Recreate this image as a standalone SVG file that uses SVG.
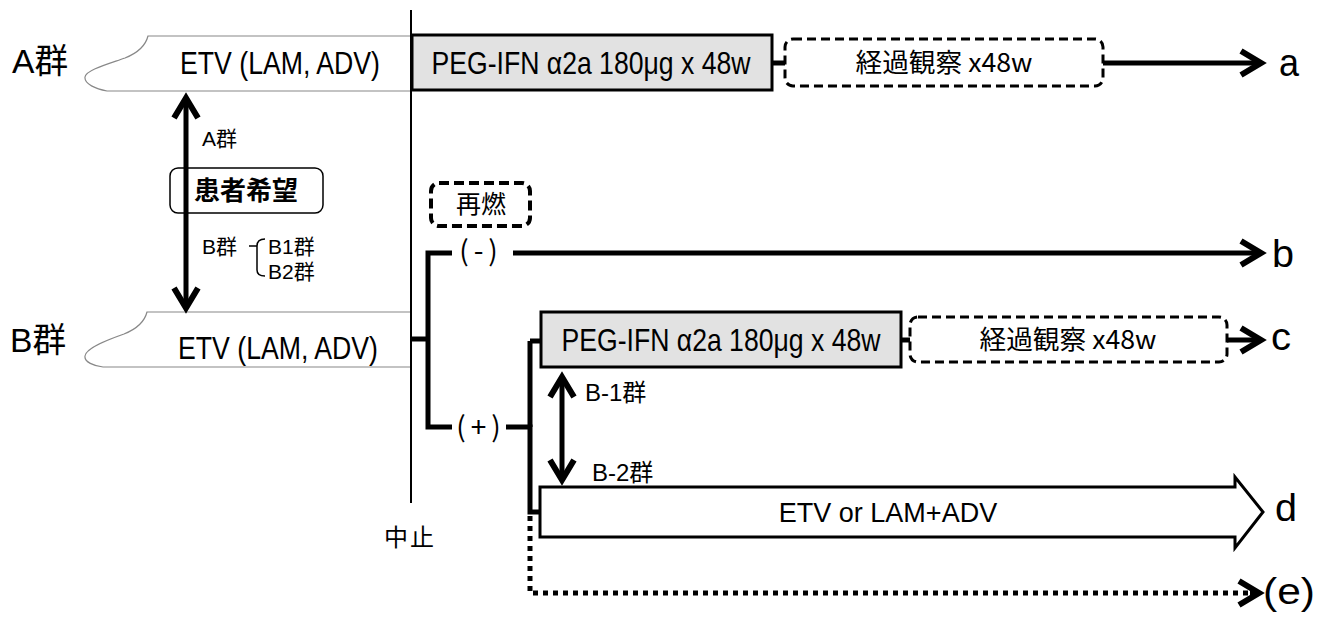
<svg xmlns="http://www.w3.org/2000/svg" width="1327" height="619" viewBox="0 0 1327 619">
<style>
.t{font-family:"Liberation Sans","Noto Sans CJK JP",sans-serif;fill:#000}
.j{font-family:"Noto Sans CJK JP",sans-serif;fill:#000}
.thick{stroke:#000;stroke-width:5;fill:none}
.etv{fill:#fff;stroke:#888;stroke-width:1.2}
.peg{fill:#e2e2e2;stroke:#000;stroke-width:3}
.obs{fill:#fff;stroke:#000;stroke-width:3;stroke-dasharray:9 5}
.dot{stroke:#000;stroke-width:5;fill:none;stroke-dasharray:5 5}
</style>
<defs>
<marker id="chev" markerUnits="userSpaceOnUse" markerWidth="40" markerHeight="40" viewBox="-30 -20 40 40" refX="0" refY="0" orient="auto-start-reverse">
<path d="M-21,-12 L-1,0 L-21,12" fill="none" stroke="#000" stroke-width="6" stroke-linejoin="miter" stroke-miterlimit="10"/>
</marker>
</defs>

<g id="label-A"><text class="t" x="12" y="73" font-size="34" textLength="56" lengthAdjust="spacingAndGlyphs">A群</text></g>
<g id="label-B"><text class="t" x="10" y="352" font-size="34" textLength="56" lengthAdjust="spacingAndGlyphs">B群</text></g>

<g id="etv-A">
<path class="etv" d="M410,36 H148 C146,44 140,52 125,58 C108,64 86,70 85,77 C84,84 96,89 107,91 H410"/>
<text class="t" x="280" y="74" font-size="31" text-anchor="middle" textLength="200" lengthAdjust="spacingAndGlyphs">ETV (LAM, ADV)</text>
</g>
<g id="etv-B">
<path class="etv" d="M410,312 H147 C145,320 139,328 124,334 C107,340 86,348 85,356 C84,362 94,366 103,367 H410"/>
<text class="t" x="278" y="359" font-size="31" text-anchor="middle" textLength="200" lengthAdjust="spacingAndGlyphs">ETV (LAM, ADV)</text>
</g>

<g id="stop">
<line x1="411" y1="10" x2="411" y2="503" stroke="#000" stroke-width="2"/>
<text class="t" x="410" y="546" font-size="24" text-anchor="middle" letter-spacing="2">中止</text>
</g>

<g id="peg-A">
<rect class="peg" x="412" y="35" width="360" height="55"/>
<text class="t" x="591" y="74" font-size="32" text-anchor="middle" textLength="319" lengthAdjust="spacingAndGlyphs">PEG-IFN α2a 180μg x 48w</text>
</g>
<g id="obs-A">
<rect class="obs" x="785" y="39" width="318" height="47" rx="8"/>
<text class="j" x="944" y="72" font-size="26" text-anchor="middle" textLength="177" lengthAdjust="spacingAndGlyphs">経過観察 x48w</text>
</g>

<g id="choice">
<rect x="170" y="168" width="153" height="45" rx="8" fill="#fff" stroke="#000" stroke-width="1.5"/>
<text class="j" x="246" y="200" font-size="26" font-weight="bold" text-anchor="middle">患者希望</text>
</g>
<g id="choice-labels">
<text class="t" x="202" y="146" font-size="21">A群</text>
<text class="t" x="202" y="254" font-size="21">B群</text>
<path d="M249,246 H257 M265,239 Q257,239 257,246 V270 Q257,276 265,276" fill="none" stroke="#000" stroke-width="1.5"/>
<text class="t" x="268" y="254" font-size="21">B1群</text>
<text class="t" x="268" y="279" font-size="21">B2群</text>
</g>

<g id="relapse">
<rect x="431" y="183" width="99" height="43" rx="8" fill="#fff" stroke="#000" stroke-width="4" stroke-dasharray="10 5"/>
<text class="j" x="481" y="213" font-size="25" text-anchor="middle">再燃</text>
</g>
<g id="neg"><text class="j" x="481" y="261" font-size="28" text-anchor="middle" letter-spacing="5">(-)</text></g>
<g id="pos"><text class="j" x="481" y="437" font-size="28" text-anchor="middle" letter-spacing="5">(+)</text></g>

<g id="peg-B">
<rect class="peg" x="541" y="312" width="360" height="55"/>
<text class="t" x="721" y="351" font-size="32" text-anchor="middle" textLength="319" lengthAdjust="spacingAndGlyphs">PEG-IFN α2a 180μg x 48w</text>
</g>
<g id="obs-B">
<rect class="obs" x="910" y="317" width="317" height="45" rx="8"/>
<text class="j" x="1068" y="349" font-size="26" text-anchor="middle" textLength="177" lengthAdjust="spacingAndGlyphs">経過観察 x48w</text>
</g>

<g id="sub-labels">
<text class="t" x="585" y="401" font-size="24">B-1群</text>
<text class="t" x="592" y="481" font-size="24">B-2群</text>
</g>

<g id="nuc-d">
<path d="M540,487 H1235 V477 L1263,512 L1235,548 V537 H540 Z" fill="#fff" stroke="#000" stroke-width="3"/>
<text class="t" x="888" y="522" font-size="27" text-anchor="middle">ETV or LAM+ADV</text>
</g>

<g id="outcomes">
<text class="t" x="1279" y="76" font-size="38" textLength="20" lengthAdjust="spacingAndGlyphs">a</text>
<text class="t" x="1272" y="267" font-size="38" textLength="22" lengthAdjust="spacingAndGlyphs">b</text>
<text class="t" x="1271" y="350" font-size="38" textLength="20" lengthAdjust="spacingAndGlyphs">c</text>
<text class="t" x="1275" y="521" font-size="38" textLength="22" lengthAdjust="spacingAndGlyphs">d</text>
<text class="t" x="1263" y="604" font-size="36" textLength="52" lengthAdjust="spacingAndGlyphs">(e)</text>
</g>

<g id="connectors">
<line class="thick" x1="186" y1="97" x2="186" y2="309" marker-start="url(#chev)" marker-end="url(#chev)"/>
<line class="thick" x1="772" y1="63" x2="785" y2="63"/>
<line class="thick" x1="1103" y1="63" x2="1262" y2="63" marker-end="url(#chev)"/>
<line class="thick" x1="410" y1="339" x2="428" y2="339"/>
<path class="thick" d="M452,253 H428 V427 H452"/>
<line class="thick" x1="513" y1="253" x2="1262" y2="253" marker-end="url(#chev)"/>
<path class="thick" d="M506,427 H530 V512 H541 M530,341 H541"/>
<line class="thick" x1="530" y1="341" x2="530" y2="427"/>
<line class="thick" x1="901" y1="340" x2="910" y2="340"/>
<line class="thick" x1="1227" y1="340" x2="1262" y2="340" marker-end="url(#chev)"/>
<line class="thick" x1="562" y1="376" x2="562" y2="481" marker-start="url(#chev)" marker-end="url(#chev)"/>
<path class="dot" d="M530,516 V593 H1258"/>
<line x1="1250" y1="593" x2="1260" y2="593" stroke="#000" stroke-width="5" marker-end="url(#chev)"/>
</g>
</svg>
